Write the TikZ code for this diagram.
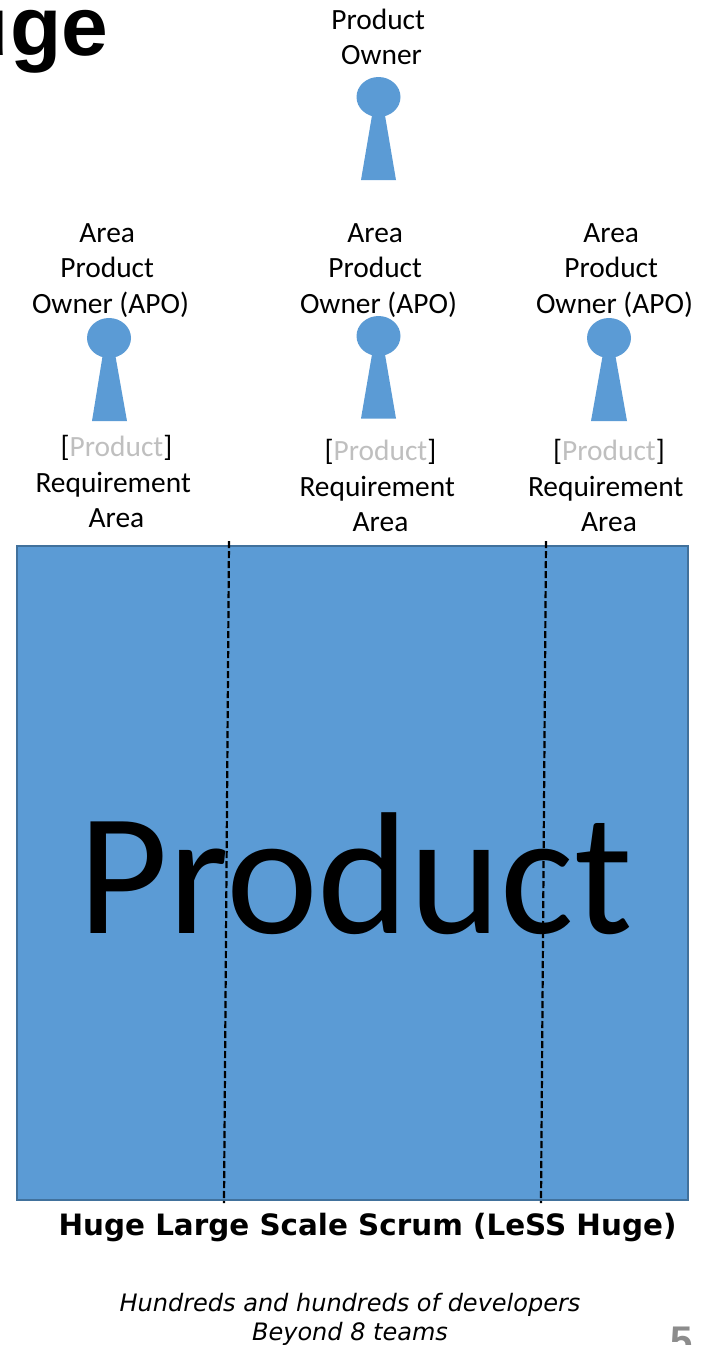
\documentclass[tikz,border=0pt]{standalone}
\usepackage{fontspec}
\setmainfont{Carlito}
\newfontfamily\headfont{Liberation Sans}
\newfontfamily\notefont{DejaVu Sans}
\usetikzlibrary{shapes.geometric}
\definecolor{productblue}{HTML}{5B9BD5}
\definecolor{productedge}{HTML}{41719C}
\definecolor{fadedtext}{HTML}{BFBFBF}
\tikzset{
    label/.style={align=center, inner sep=0pt, font=\fontsize{14.7}{17.7}\selectfont},
    head/.style={ellipse, fill=productblue, minimum width=22pt, minimum height=20pt, inner sep=0pt},
    body/.style={fill=productblue},
    area/.style={black, line width=1.1pt, dash pattern=on 3.6pt off 1.4pt},
    product/.style={rectangle, draw=productedge, fill=productblue, line width=1pt, inner sep=0pt,
        minimum width=335.5pt, minimum height=327pt},
}
\newcommand{\tsp}{\mbox{\ }}
\newcommand{\reqtext}{[\textcolor{fadedtext}{Product}]\\Requirement\tsp\\Area}
\newcommand{\apotext}{Area\tsp\\Product\tsp\\Owner (APO)}
\begin{document}
\begin{tikzpicture}[x=0.5pt, y=-0.5pt]
        \useasboundingbox (0,0) rectangle (703,1345);
        % Nodes
        \node[anchor=base east, inner sep=0pt, font=\headfont\bfseries\fontsize{42}{42}\selectfont] (title) at (109,55.5) {Hu\kern1pt ge};
        \node[label] (PO) at (381.5,37) {Product\tsp\\Owner};
        \node[head] (POh) at (378.5,97) {};
        \node[label] (APO1) at (110.5,270.5) {\apotext};
        \node[label] (APO2) at (378.5,270.5) {\apotext};
        \node[label] (APO3) at (614.5,270.5) {\apotext};
        \node[head] (APO1h) at (109,338) {};
        \node[head] (APO2h) at (378.5,336) {};
        \node[head] (APO3h) at (609,338) {};
        \node[label] (RA1) at (116.5,481.5) {\reqtext};
        \node[label] (RA2) at (380.5,485.5) {\reqtext};
        \node[label] (RA3) at (609,485.5) {\reqtext};
        \node[product] (P) at (352.5,872.5) {};
        \node[inner sep=0pt, font=\fontsize{87}{87}\selectfont] (Ptext) at (355.5,873.5) {Product};
        \node[inner sep=0pt, font=\notefont\bfseries\fontsize{14.7}{16}\selectfont] (less) at (367.5,1227) {Huge Large Scale Scrum (LeSS Huge)};
        \node[align=center, inner sep=0pt, font=\notefont\itshape\fontsize{12}{14.6}\selectfont] (note) at (350,1319.5) {Hundreds and hundreds of developers\\Beyond 8 teams};
        \node[anchor=base east, inner sep=0pt, text=gray!90, font=\headfont\bfseries\fontsize{20}{20}\selectfont] (page) at (693,1354) {5};

        % Bodies
        \fill[body] (POh.south) ++(-6.5,-2) -- ++(13,0) -- (396,180) -- (361,180) -- cycle;
        \fill[body] (APO1h.south) ++(-6.5,-2) -- ++(13,0) -- (127,421) -- (92,421) -- cycle;
        \fill[body] (APO2h.south) ++(-6.5,-2) -- ++(13,0) -- (396,418.5) -- (361,418.5) -- cycle;
        \fill[body] (APO3h.south) ++(-6.5,-2) -- ++(13,0) -- (627,421) -- (591,421) -- cycle;

        % Draw lines
        \coordinate (a1) at (229,541);
        \coordinate (b1) at (224,1203);
        \coordinate (a2) at (546,541);
        \coordinate (b2) at (541,1203);
        \draw[area] (a1) -- (b1);
        \draw[area] (a2) -- (b2);
\end{tikzpicture}
\end{document}
